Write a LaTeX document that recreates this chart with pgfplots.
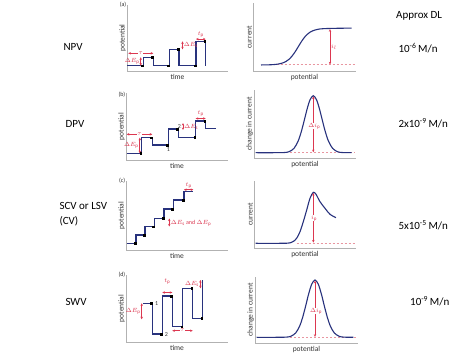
\documentclass[border=0pt]{standalone}
\usepackage{pgfplots}
\pgfplotsset{compat=1.18}
\usepackage{fontspec}
\setmainfont{Carlito}
\usetikzlibrary{arrows.meta}
\definecolor{wavec}{RGB}{40,50,125}
\definecolor{anno}{RGB}{220,55,80}
\definecolor{dashc}{RGB}{232,150,160}
\pgfplotsset{
 panel/.style={scale only axis, axis lines*=left, axis line style={-, draw=gray!60, line width=0.7pt},
  xtick=\empty, ytick=\empty, xmin=0, ymin=0, clip=false, anchor=south west,
  every axis x label/.style={at={(axis description cs:0.5,0)}, anchor=north, inner sep=0pt, yshift=-3pt, font=\fontsize{7.5}{8}\selectfont, text=black!80},
  every axis y label/.style={at={(axis description cs:0,0.5)}, anchor=south, rotate=90, inner sep=1pt, font=\fontsize{7.5}{8}\selectfont, text=black!80},
 },
 wv/.style={wavec, line width=1.3pt, no markers, line join=miter},
 samp/.style={only marks, mark=square*, mark size=0.9pt, black},
 cv/.style={wavec, line width=1.1pt, smooth, no markers},
 basedash/.style={dashc, line width=0.6pt, dash pattern=on 2pt off 2pt, no markers},
}
\tikzset{ann/.style={draw=anno, line width=0.7pt, {Stealth[length=2.6pt,width=2.4pt]}-{Stealth[length=2.6pt,width=2.4pt]}},
 annlab/.style={text=anno, font=\fontsize{6}{7}\selectfont, inner sep=0.5pt},
 plab/.style={font=\fontsize{6}{7}\selectfont, text=black!80, anchor=east, inner sep=0.5pt},
 big/.style={font=\fontsize{11}{15}\selectfont}}
\begin{document}
\begin{tikzpicture}
\fill[white] (0,0) rectangle (474pt,-355pt);
\useasboundingbox (0,0) rectangle (474pt,-355pt);

% ---------- (a) NPV ----------
\begin{axis}[panel, at={(127pt,-71pt)}, width=101pt, height=66pt, xmax=101, ymax=66, xlabel={time}, ylabel={potential}]
\addplot[wv] coordinates {(0,5.3)(16.3,5.3)(16.3,13.7)(26.3,13.7)(26.3,5.3)(42.3,5.3)(42.3,21.7)(52,21.7)(52,5.3)(69,5.3)(69,29.7)(78.7,29.7)(78.7,5.3)};
\addplot[samp] coordinates {(15.3,5.3)(25.3,13.7)(41.3,5.3)(51,21.7)(68,5.3)(77.7,29.7)};
\node[plab] at (rel axis cs:0,1) {(a)};
\draw[ann] (axis cs:1.3,17.7) -- node[fill=white, annlab]{$\tau$} (axis cs:26.3,17.7);
\draw[ann] (axis cs:13.7,5.3) -- (axis cs:13.7,13.7);
\node[annlab, anchor=east] at (axis cs:13.2,10) {$\Delta E_\mathrm{p}$};
\draw[ann] (axis cs:55.5,21.7) -- (axis cs:55.5,29.7);
\node[annlab, anchor=west] at (axis cs:56.2,25.7) {$\Delta E_\mathrm{s}$};
\draw[ann] (axis cs:69,31.9) -- (axis cs:78.7,31.9);
\node[annlab, anchor=south] at (axis cs:73.8,33) {$t_\mathrm{p}$};
\end{axis}

\begin{axis}[panel, at={(253pt,-71pt)}, width=103pt, height=68pt, xmax=103, ymax=68, xlabel={potential}, ylabel={current}]
\addplot[basedash] coordinates {(23.7,6.3)(102,6.3)};
\addplot[cv] coordinates {(8,6.04)(15,6.15)(20,6.37)(25,6.9)(30,8.14)(33,9.55)(36,11.71)(39,14.86)(42,19.0)(45,23.85)(48,28.75)(51,33.08)(54,36.43)(57,38.79)(60,40.31)(65,41.71)(70,42.29)(80,42.63)(98.7,42.9)};
\draw[ann] (axis cs:77,6.6) -- (axis cs:77,41.8);
\node[annlab, anchor=west] at (axis cs:77.4,24) {$i_l$};
\end{axis}

% ---------- (b) DPV ----------
\begin{axis}[panel, at={(126pt,-160pt)}, width=102pt, height=67pt, xmax=102, ymax=67, xlabel={time}, ylabel={potential}]
\addplot[wv] coordinates {(0.7,6.7)(15.7,6.7)(15.7,22.3)(26.3,22.3)(26.3,15)(42.3,15)(42.3,31)(52.3,31)(52.3,22.7)(69.7,22.7)(69.7,39)(79.7,39)(79.7,31.7)(90,31.7)};
\addplot[samp] coordinates {(14.7,6.7)(25.3,22.3)(41.3,15)(51.3,31)(68.7,22.7)(78.7,39)};
\node[plab] at (rel axis cs:0,0.97) {(b)};
\draw[ann] (axis cs:0.7,25.7) -- node[fill=white, annlab]{$\tau$} (axis cs:26.3,25.7);
\draw[ann] (axis cs:13.8,6.7) -- (axis cs:13.8,22.3);
\node[annlab, anchor=east] at (axis cs:13.3,14.5) {$\Delta E_\mathrm{p}$};
\node[annlab, text=black!80, anchor=north] at (axis cs:42.3,13.5) {1};
\node[annlab, text=black!80] at (axis cs:53.5,33.3) {2};
\draw[ann] (axis cs:57,30) -- (axis cs:57,37);
\node[annlab, anchor=west] at (axis cs:57.6,33.5) {$\Delta E_\mathrm{s}$};
\draw[ann] (axis cs:69.7,41.5) -- (axis cs:79.7,41.5);
\node[annlab, anchor=south] at (axis cs:74.7,42.6) {$t_\mathrm{p}$};
\end{axis}

\begin{axis}[panel, at={(254pt,-158pt)}, width=102pt, height=68pt, xmax=102, ymax=68, xlabel={potential}, ylabel={change in current}]
\addplot[basedash] coordinates {(36,5.3)(101,5.3)};
\addplot[cv] coordinates {(1.7,5.3)(20,5.3)(30,5.45)(35,6.26)(40,9.63)(44,16.58)(47,25.3)(50,36.6)(53,48.6)(56,58.1)(59.3,62.3)(62.6,58.1)(65.6,48.6)(68.6,36.6)(71.6,25.3)(74.6,16.58)(78.6,9.63)(83.6,6.26)(88.6,5.45)(97.7,5.3)};
\draw[ann] (axis cs:59.3,5.8) -- (axis cs:59.3,61.6);
\node[annlab, fill=white] at (axis cs:60.3,32) {$\Delta i_\mathrm{p}$};
\end{axis}

% ---------- (c) SCV / LSV ----------
\begin{axis}[panel, at={(126pt,-250pt)}, width=102pt, height=69pt, xmax=102, ymax=69, xlabel={time}, ylabel={potential}]
\addplot[wv] coordinates {(0.7,6.7)(10,6.7)(10,15)(19,15)(19,23.3)(28.3,23.3)(28.3,31.7)(38,31.7)(38,41)(47.3,41)(47.3,50)(58,50)(58,58.3)(67.3,58.3)};
\addplot[samp] coordinates {(9,6.7)(18,15)(27.3,23.3)(37,31.7)(46.3,41)(57,50)};
\node[plab] at (rel axis cs:0,1) {(c)};
\draw[ann] (axis cs:58,60.3) -- (axis cs:67.3,60.3);
\node[annlab, anchor=south] at (axis cs:62.7,60.8) {$t_\mathrm{p}$};
\draw[ann] (axis cs:43.3,23.5) -- (axis cs:43.3,31.5);
\node[annlab, anchor=west] at (axis cs:44.2,26.8) {$\Delta E_\mathrm{s}$ and $\Delta E_\mathrm{p}$};
\end{axis}

\begin{axis}[panel, at={(254pt,-248pt)}, width=102pt, height=67pt, xmax=102, ymax=67, xlabel={potential}, ylabel={current}]
\addplot[basedash] coordinates {(42.7,4.9)(102,4.9)};
\addplot[cv] coordinates {(1.7,4.7)(26,4.7)(33,4.8)(37,5.4)(40,7.0)(43,10.3)(46,16.3)(49.3,26.3)(52.7,38)(56,49.7)(59.3,55.7)(62,53.7)(66,46.3)(71,39.7)(76,33.7)(82,30.3)};
\draw[ann] (axis cs:59.3,5.4) -- (axis cs:59.3,55);
\node[annlab, fill=white] at (axis cs:60,30) {$i_\mathrm{p}$};
\end{axis}

% ---------- (d) SWV ----------
\begin{axis}[panel, at={(126pt,-342pt)}, width=102pt, height=67pt, xmax=102, ymax=67, xlabel={time}, ylabel={potential}]
\addplot[wv] coordinates {(17.3,38.7)(26.3,38.7)(26.3,8)(36.3,8)(36.3,46)(46.3,46)(46.3,15.3)(56.7,15.3)(56.7,53.7)(66.7,53.7)(66.7,23.7)(76.7,23.7)(76.7,62)};
\addplot[samp] coordinates {(25.3,38.7)(35.3,8)(45.3,46)(55.7,15.3)(65.7,53.7)(75.7,23.7)};
\node[plab] at (rel axis cs:0,1) {(d)};
\draw[ann] (axis cs:15.7,22.7) -- (axis cs:15.7,38.7);
\node[annlab, anchor=east] at (axis cs:15.1,30.7) {$\Delta E_\mathrm{p}$};
\node[annlab, text=black!80, anchor=west] at (axis cs:28.5,38.7) {1};
\node[annlab, text=black!80, anchor=west] at (axis cs:38.2,7.5) {2};
\draw[ann] (axis cs:36.3,49.5) -- (axis cs:46.3,49.5);
\node[annlab, anchor=south] at (axis cs:41.3,56.5) {$t_\mathrm{p}$};
\draw[ann] (axis cs:46.3,11.3) -- node[fill=white, annlab]{$\tau$} (axis cs:66.7,11.3);
\draw[ann] (axis cs:74.4,53.7) -- (axis cs:74.4,62);
\node[annlab, anchor=east] at (axis cs:73.6,58.5) {$\Delta E_\mathrm{s}$};
\end{axis}

\begin{axis}[panel, at={(255pt,-343pt)}, width=103pt, height=66pt, xmax=103, ymax=66, xlabel={potential}, ylabel={change in current}]
\addplot[basedash] coordinates {(35,5.7)(102,5.7)};
\addplot[cv] coordinates {(1.7,5.7)(20.7,5.7)(30.7,5.85)(35.7,6.66)(40.7,10.05)(44.7,17.05)(47.7,25.8)(50.7,37.2)(53.7,49.25)(56.7,58.8)(60,63)(63.3,58.8)(66.3,49.25)(69.3,37.2)(72.3,25.8)(75.3,17.05)(79.3,10.05)(84.3,6.66)(89.3,5.85)(98.3,5.7)};
\draw[ann] (axis cs:60,6.2) -- (axis cs:60,62.2);
\node[annlab, fill=white] at (axis cs:61,32) {$\Delta i_\mathrm{p}$};
\end{axis}

% ---------- side texts ----------
\node[big] at (73pt,-47.3pt) {NPV};
\node[big] at (75pt,-123.5pt) {DPV};
\node[big, align=left, anchor=west, inner sep=0pt] at (59.3pt,-214.2pt) {SCV or LSV\\(CV)};
\node[big] at (76pt,-301.5pt) {SWV};
\node[big, anchor=west, inner sep=0pt] at (396pt,-16pt) {Approx DL};
\node[big, anchor=west, inner sep=0pt] at (398.3pt,-48.3pt) {10\textsuperscript{-6}\,M/n};
\node[big, anchor=west, inner sep=0pt] at (398.3pt,-123.3pt) {2x10\textsuperscript{-9}\,M/n};
\node[big, anchor=west, inner sep=0pt] at (398.3pt,-225pt) {5x10\textsuperscript{-5}\,M/n};
\node[big, anchor=west, inner sep=0pt] at (410pt,-301.7pt) {10\textsuperscript{-9}\,M/n};
\end{tikzpicture}
\end{document}
